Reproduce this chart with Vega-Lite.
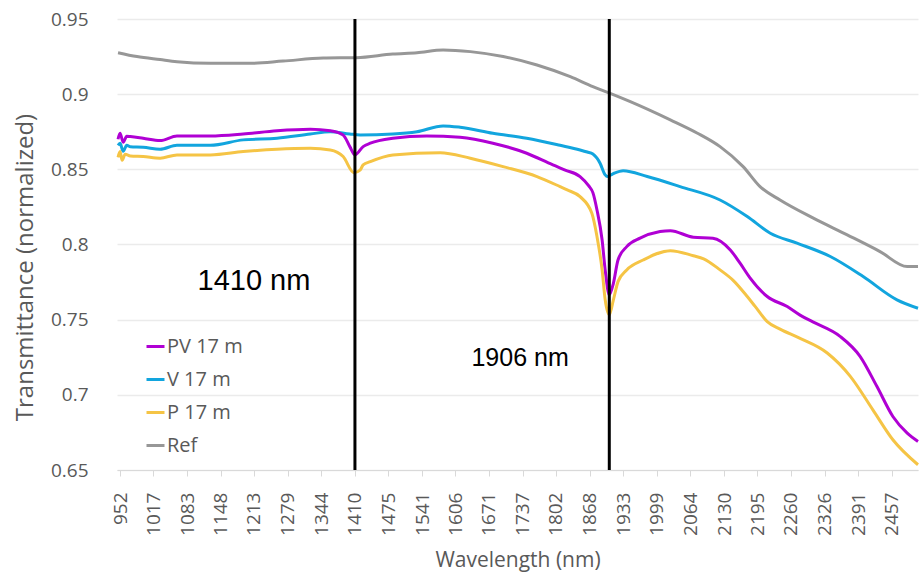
{
  "$schema": "https://vega.github.io/schema/vega-lite/v6.json",
  "width": 801,
  "height": 451,
  "autosize": {"type": "none"},
  "padding": {"left": 117, "top": 19, "right": 4, "bottom": 104},
  "background": "white",
  "config": {
    "view": {"stroke": null},
    "font": "Open Sans",
    "axisX": {"labelOverlap": false}
  },
  "datasets": {
    "spectra": [
      {"s": "Ref", "nm": 948, "t": 0.9276}, {"s": "Ref", "nm": 985, "t": 0.925}, {"s": "Ref", "nm": 1030, "t": 0.923}, {"s": "Ref", "nm": 1063, "t": 0.9216}, {"s": "Ref", "nm": 1128, "t": 0.9205}, {"s": "Ref", "nm": 1205, "t": 0.9205}, {"s": "Ref", "nm": 1270, "t": 0.922}, {"s": "Ref", "nm": 1348, "t": 0.924}, {"s": "Ref", "nm": 1413, "t": 0.9243}, {"s": "Ref", "nm": 1484, "t": 0.9267}, {"s": "Ref", "nm": 1531, "t": 0.9276}, {"s": "Ref", "nm": 1582, "t": 0.9294}, {"s": "Ref", "nm": 1635, "t": 0.9283}, {"s": "Ref", "nm": 1699, "t": 0.925}, {"s": "Ref", "nm": 1765, "t": 0.9194}, {"s": "Ref", "nm": 1830, "t": 0.9116}, {"s": "Ref", "nm": 1874, "t": 0.905}, {"s": "Ref", "nm": 1904, "t": 0.901}, {"s": "Ref", "nm": 1947, "t": 0.895}, {"s": "Ref", "nm": 2025, "t": 0.8829}, {"s": "Ref", "nm": 2077, "t": 0.8742}, {"s": "Ref", "nm": 2122, "t": 0.8651}, {"s": "Ref", "nm": 2167, "t": 0.8518}, {"s": "Ref", "nm": 2200, "t": 0.8385}, {"s": "Ref", "nm": 2239, "t": 0.8296}, {"s": "Ref", "nm": 2303, "t": 0.8177}, {"s": "Ref", "nm": 2370, "t": 0.8064}, {"s": "Ref", "nm": 2434, "t": 0.7953}, {"s": "Ref", "nm": 2487, "t": 0.7853}, {"s": "Ref", "nm": 2508, "t": 0.7853},

      {"s": "V 17 m", "nm": 948, "t": 0.866}, {"s": "V 17 m", "nm": 952, "t": 0.8673}, {"s": "V 17 m", "nm": 958, "t": 0.862}, {"s": "V 17 m", "nm": 965, "t": 0.866}, {"s": "V 17 m", "nm": 972, "t": 0.865}, {"s": "V 17 m", "nm": 997, "t": 0.8647}, {"s": "V 17 m", "nm": 1030, "t": 0.8634}, {"s": "V 17 m", "nm": 1063, "t": 0.866}, {"s": "V 17 m", "nm": 1128, "t": 0.866}, {"s": "V 17 m", "nm": 1192, "t": 0.8696}, {"s": "V 17 m", "nm": 1258, "t": 0.8707}, {"s": "V 17 m", "nm": 1323, "t": 0.8735}, {"s": "V 17 m", "nm": 1362, "t": 0.875}, {"s": "V 17 m", "nm": 1400, "t": 0.8735}, {"s": "V 17 m", "nm": 1420, "t": 0.8729}, {"s": "V 17 m", "nm": 1484, "t": 0.8735}, {"s": "V 17 m", "nm": 1531, "t": 0.875}, {"s": "V 17 m", "nm": 1582, "t": 0.8789}, {"s": "V 17 m", "nm": 1615, "t": 0.878}, {"s": "V 17 m", "nm": 1679, "t": 0.874}, {"s": "V 17 m", "nm": 1745, "t": 0.8707}, {"s": "V 17 m", "nm": 1810, "t": 0.866}, {"s": "V 17 m", "nm": 1849, "t": 0.8629}, {"s": "V 17 m", "nm": 1863, "t": 0.8615}, {"s": "V 17 m", "nm": 1874, "t": 0.8602}, {"s": "V 17 m", "nm": 1882, "t": 0.8574}, {"s": "V 17 m", "nm": 1888, "t": 0.854}, {"s": "V 17 m", "nm": 1898, "t": 0.8463}, {"s": "V 17 m", "nm": 1902, "t": 0.8452}, {"s": "V 17 m", "nm": 1913, "t": 0.847}, {"s": "V 17 m", "nm": 1933, "t": 0.8491}, {"s": "V 17 m", "nm": 1980, "t": 0.8452}, {"s": "V 17 m", "nm": 2044, "t": 0.8385}, {"s": "V 17 m", "nm": 2122, "t": 0.8296}, {"s": "V 17 m", "nm": 2175, "t": 0.8186}, {"s": "V 17 m", "nm": 2220, "t": 0.8075}, {"s": "V 17 m", "nm": 2272, "t": 0.8009}, {"s": "V 17 m", "nm": 2337, "t": 0.792}, {"s": "V 17 m", "nm": 2401, "t": 0.7787}, {"s": "V 17 m", "nm": 2467, "t": 0.7632}, {"s": "V 17 m", "nm": 2508, "t": 0.7576},

      {"s": "PV 17 m", "nm": 948, "t": 0.87}, {"s": "PV 17 m", "nm": 952, "t": 0.874}, {"s": "PV 17 m", "nm": 958, "t": 0.868}, {"s": "PV 17 m", "nm": 965, "t": 0.872}, {"s": "PV 17 m", "nm": 972, "t": 0.8718}, {"s": "PV 17 m", "nm": 997, "t": 0.8707}, {"s": "PV 17 m", "nm": 1030, "t": 0.8691}, {"s": "PV 17 m", "nm": 1063, "t": 0.8722}, {"s": "PV 17 m", "nm": 1128, "t": 0.8722}, {"s": "PV 17 m", "nm": 1192, "t": 0.8735}, {"s": "PV 17 m", "nm": 1258, "t": 0.8757}, {"s": "PV 17 m", "nm": 1323, "t": 0.8767}, {"s": "PV 17 m", "nm": 1362, "t": 0.8757}, {"s": "PV 17 m", "nm": 1387, "t": 0.8729}, {"s": "PV 17 m", "nm": 1400, "t": 0.8651}, {"s": "PV 17 m", "nm": 1410, "t": 0.8596}, {"s": "PV 17 m", "nm": 1426, "t": 0.8651}, {"s": "PV 17 m", "nm": 1440, "t": 0.8674}, {"s": "PV 17 m", "nm": 1484, "t": 0.8707}, {"s": "PV 17 m", "nm": 1550, "t": 0.8722}, {"s": "PV 17 m", "nm": 1615, "t": 0.8713}, {"s": "PV 17 m", "nm": 1679, "t": 0.8674}, {"s": "PV 17 m", "nm": 1745, "t": 0.8607}, {"s": "PV 17 m", "nm": 1796, "t": 0.8529}, {"s": "PV 17 m", "nm": 1820, "t": 0.8495}, {"s": "PV 17 m", "nm": 1849, "t": 0.8452}, {"s": "PV 17 m", "nm": 1866, "t": 0.839}, {"s": "PV 17 m", "nm": 1874, "t": 0.8345}, {"s": "PV 17 m", "nm": 1882, "t": 0.823}, {"s": "PV 17 m", "nm": 1892, "t": 0.803}, {"s": "PV 17 m", "nm": 1898, "t": 0.7831}, {"s": "PV 17 m", "nm": 1906, "t": 0.7665}, {"s": "PV 17 m", "nm": 1914, "t": 0.7742}, {"s": "PV 17 m", "nm": 1923, "t": 0.7897}, {"s": "PV 17 m", "nm": 1940, "t": 0.7986}, {"s": "PV 17 m", "nm": 1966, "t": 0.8042}, {"s": "PV 17 m", "nm": 2005, "t": 0.8086}, {"s": "PV 17 m", "nm": 2025, "t": 0.8092}, {"s": "PV 17 m", "nm": 2070, "t": 0.8048}, {"s": "PV 17 m", "nm": 2108, "t": 0.8042}, {"s": "PV 17 m", "nm": 2142, "t": 0.7964}, {"s": "PV 17 m", "nm": 2161, "t": 0.7876}, {"s": "PV 17 m", "nm": 2180, "t": 0.7780}, {"s": "PV 17 m", "nm": 2214, "t": 0.7654}, {"s": "PV 17 m", "nm": 2253, "t": 0.7587}, {"s": "PV 17 m", "nm": 2278, "t": 0.7530}, {"s": "PV 17 m", "nm": 2303, "t": 0.7485}, {"s": "PV 17 m", "nm": 2356, "t": 0.7389}, {"s": "PV 17 m", "nm": 2395, "t": 0.7256}, {"s": "PV 17 m", "nm": 2428, "t": 0.7055}, {"s": "PV 17 m", "nm": 2459, "t": 0.6856}, {"s": "PV 17 m", "nm": 2487, "t": 0.6745}, {"s": "PV 17 m", "nm": 2508, "t": 0.669},

      {"s": "P 17 m", "nm": 948, "t": 0.858}, {"s": "P 17 m", "nm": 952, "t": 0.8618}, {"s": "P 17 m", "nm": 956, "t": 0.856}, {"s": "P 17 m", "nm": 962, "t": 0.86}, {"s": "P 17 m", "nm": 972, "t": 0.8589}, {"s": "P 17 m", "nm": 997, "t": 0.8585}, {"s": "P 17 m", "nm": 1030, "t": 0.8574}, {"s": "P 17 m", "nm": 1063, "t": 0.8596}, {"s": "P 17 m", "nm": 1128, "t": 0.8596}, {"s": "P 17 m", "nm": 1192, "t": 0.8618}, {"s": "P 17 m", "nm": 1258, "t": 0.8634}, {"s": "P 17 m", "nm": 1323, "t": 0.864}, {"s": "P 17 m", "nm": 1362, "t": 0.8629}, {"s": "P 17 m", "nm": 1387, "t": 0.8585}, {"s": "P 17 m", "nm": 1408, "t": 0.8478}, {"s": "P 17 m", "nm": 1420, "t": 0.8495}, {"s": "P 17 m", "nm": 1426, "t": 0.8529}, {"s": "P 17 m", "nm": 1440, "t": 0.8551}, {"s": "P 17 m", "nm": 1484, "t": 0.8596}, {"s": "P 17 m", "nm": 1576, "t": 0.8611}, {"s": "P 17 m", "nm": 1635, "t": 0.8574}, {"s": "P 17 m", "nm": 1699, "t": 0.8518}, {"s": "P 17 m", "nm": 1765, "t": 0.8452}, {"s": "P 17 m", "nm": 1810, "t": 0.8385}, {"s": "P 17 m", "nm": 1824, "t": 0.8363}, {"s": "P 17 m", "nm": 1849, "t": 0.8318}, {"s": "P 17 m", "nm": 1872, "t": 0.8208}, {"s": "P 17 m", "nm": 1882, "t": 0.8053}, {"s": "P 17 m", "nm": 1892, "t": 0.7831}, {"s": "P 17 m", "nm": 1898, "t": 0.7632}, {"s": "P 17 m", "nm": 1906, "t": 0.7532}, {"s": "P 17 m", "nm": 1914, "t": 0.7632}, {"s": "P 17 m", "nm": 1923, "t": 0.7753}, {"s": "P 17 m", "nm": 1940, "t": 0.7831}, {"s": "P 17 m", "nm": 1972, "t": 0.7897}, {"s": "P 17 m", "nm": 2025, "t": 0.7959}, {"s": "P 17 m", "nm": 2070, "t": 0.7925}, {"s": "P 17 m", "nm": 2090, "t": 0.7905}, {"s": "P 17 m", "nm": 2122, "t": 0.7831}, {"s": "P 17 m", "nm": 2148, "t": 0.7760}, {"s": "P 17 m", "nm": 2175, "t": 0.7654}, {"s": "P 17 m", "nm": 2190, "t": 0.7590}, {"s": "P 17 m", "nm": 2214, "t": 0.7487}, {"s": "P 17 m", "nm": 2240, "t": 0.7435}, {"s": "P 17 m", "nm": 2275, "t": 0.738}, {"s": "P 17 m", "nm": 2331, "t": 0.7278}, {"s": "P 17 m", "nm": 2376, "t": 0.7123}, {"s": "P 17 m", "nm": 2420, "t": 0.69}, {"s": "P 17 m", "nm": 2459, "t": 0.6701}, {"s": "P 17 m", "nm": 2508, "t": 0.6535}
    ],
    "marks": [{"nm": 1410}, {"nm": 1906}],
    "notes": [
      {"label": "1410 nm", "nm": 1213, "t": 0.7758, "size": 29},
      {"label": "1906 nm", "nm": 1732, "t": 0.7246, "size": 25}
    ]
  },
  "encoding": {
    "x": {
      "field": "nm", "type": "quantitative",
      "scale": {"domain": [946, 2508], "nice": false, "zero": false},
      "axis": {
        "title": "Wavelength (nm)",
        "values": [952,1017,1083,1148,1213,1279,1344,1410,1475,1541,1606,1671,1737,1802,1868,1933,1999,2064,2130,2195,2260,2326,2391,2457],
        "format": "d",
        "labelAngle": -90,
        "labelOverlap": false,
        "labelFontSize": 19,
        "labelColor": "#595959",
        "labelPadding": 16,
        "labelFont": "Open Sans",
        "grid": false,
        "domainColor": "#d9d9d9",
        "tickColor": "#d9d9d9",
        "tickSize": 6,
        "titleFontSize": 21,
        "titleFontWeight": "normal",
        "titleColor": "#595959",
        "titleFont": "Open Sans",
        "titlePadding": 14
      }
    }
  },
  "layer": [
    {
      "data": {"name": "spectra"},
      "mark": {"type": "line", "strokeWidth": 3, "interpolate": "monotone"},
      "encoding": {
        "y": {
          "field": "t", "type": "quantitative",
          "scale": {"domain": [0.65, 0.95], "nice": false, "zero": false},
          "axis": {
            "title": "Transmittance (normalized)",
            "values": [0.65, 0.7, 0.75, 0.8, 0.85, 0.9, 0.95],
            "format": "~g",
            "labelFontSize": 19,
            "labelColor": "#595959",
            "labelFont": "Open Sans",
            "labelPadding": 29,
            "ticks": false,
            "domain": false,
            "gridColor": "#ebebeb",
            "gridWidth": 1.5,
            "titleFontSize": 24,
            "titleFontWeight": "normal",
            "titleColor": "#595959",
            "titleFont": "Open Sans",
            "titleX": -92,
            "titleY": 248,
            "titleBaseline": "middle"
          }
        },
        "color": {
          "field": "s", "type": "nominal",
          "scale": {
            "domain": ["PV 17 m", "V 17 m", "P 17 m", "Ref"],
            "range": ["#b000d4", "#12a5de", "#f5c445", "#979797"]
          },
          "legend": {
            "title": null,
            "orient": "none",
            "legendX": 28,
            "legendY": 317,
            "padding": 0,
            "symbolType": "stroke",
            "symbolSize": 324,
            "symbolStrokeWidth": 3,
            "labelOffset": 1,
            "labelFontSize": 20,
            "labelColor": "#595959",
            "labelFont": "Open Sans",
            "rowPadding": 12
          }
        }
      }
    },
    {
      "data": {"name": "marks"},
      "mark": {"type": "rule", "color": "black", "strokeWidth": 3},
      "encoding": {}
    },
    {
      "data": {"name": "notes"},
      "mark": {"type": "text", "font": "Liberation Sans", "color": "black", "align": "center", "baseline": "middle"},
      "encoding": {
        "y": {"field": "t", "type": "quantitative"},
        "text": {"field": "label"},
        "size": {"field": "size", "type": "quantitative", "scale": null}
      }
    }
  ]
}
